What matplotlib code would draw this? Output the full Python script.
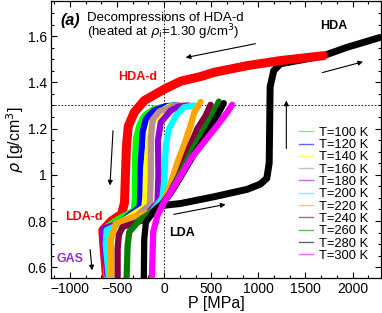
import matplotlib
matplotlib.use("Agg")
import matplotlib.pyplot as plt
from matplotlib import ticker
from matplotlib.lines import Line2D

plt.rcParams['font.family'] = ['Liberation Sans', 'DejaVu Sans']

# compression LDA -> HDA (black) and decompression of HDA-d (red)
P_comp = [-100, 0, 177, 529, 881, 1022, 1090, 1115, 1120, 1125, 1163, 1233, 1500, 1690, 1938, 2290]
rho_comp = [0.855, 0.868, 0.876, 0.905, 0.937, 0.96, 0.985, 1.05, 1.2, 1.38, 1.45, 1.48, 1.50, 1.515, 1.551, 1.594]
P_hdad = [1690, 1233, 881, 529, 388, 177, 0, -211, -317, -380, -400, -410, -420, -450, -560, -650, -640, -610]
rho_hdad = [1.515, 1.494, 1.472, 1.443, 1.425, 1.405, 1.37, 1.321, 1.27, 1.21, 1.12, 1.0, 0.88, 0.83, 0.80, 0.76, 0.70, 0.553]

# decompressions of HDA-d heated at rho=1.30
P_100 = [106, 0, -106, -211, -264, -299, -310, -310, -320, -511, -634, -630, -600]
rho_100 = [1.30, 1.295, 1.285, 1.256, 1.213, 1.155, 1.054, 0.90, 0.846, 0.803, 0.767, 0.70, 0.553]
P_120 = [150, 20, -106, -193, -228, -246, -252, -258, -450, -640, -630, -600]
rho_120 = [1.30, 1.297, 1.278, 1.242, 1.184, 1.054, 0.95, 0.86, 0.80, 0.765, 0.70, 0.553]
P_140 = [194, 50, -17, -123, -158, -190, -199, -210, -400, -640, -625, -605]
rho_140 = [1.30, 1.295, 1.278, 1.227, 1.155, 1.03, 0.90, 0.86, 0.81, 0.76, 0.70, 0.553]
P_160 = [230, 100, -50, -120, -140, -141, -150, -300, -500, -640, -620, -595]
rho_160 = [1.30, 1.297, 1.275, 1.24, 1.16, 1.0, 0.87, 0.82, 0.79, 0.76, 0.70, 0.553]
P_180 = [265, 150, 71, -35, -65, -60, -70, -200, -450, -651, -640, -598]
rho_180 = [1.30, 1.295, 1.278, 1.227, 1.15, 1.0, 0.88, 0.82, 0.79, 0.767, 0.70, 0.553]
P_200 = [317, 211, 124, 53, 18, 3, -17, -150, -400, -610, -620, -585]
rho_200 = [1.30, 1.292, 1.256, 1.199, 1.127, 0.98, 0.90, 0.83, 0.80, 0.76, 0.70, 0.553]
P_220 = [388, 320, 282, 211, 141, 60, 0, -53, -334, -511, -563, -563]
rho_220 = [1.315, 1.27, 1.213, 1.127, 1.054, 0.95, 0.89, 0.846, 0.817, 0.788, 0.724, 0.553]
P_240 = [494, 441, 353, 260, 160, 60, -40, -228, -440, -480, -493, -493]
rho_240 = [1.303, 1.256, 1.199, 1.11, 1.0, 0.92, 0.86, 0.803, 0.774, 0.74, 0.68, 0.553]
P_260 = [581, 511, 400, 290, 180, 70, -20, -106, -264, -370, -387, -398]
rho_260 = [1.317, 1.256, 1.18, 1.10, 1.01, 0.925, 0.87, 0.846, 0.803, 0.752, 0.695, 0.553]
P_280 = [634, 564, 440, 320, 190, 70, -20, -88, -193, -211, -215]
rho_280 = [1.31, 1.256, 1.17, 1.09, 1.0, 0.92, 0.875, 0.853, 0.795, 0.72, 0.553]
P_300 = [723, 670, 564, 423, 282, 177, 71, 0, -70, -116, -130]
rho_300 = [1.303, 1.27, 1.213, 1.141, 1.069, 0.997, 0.925, 0.882, 0.824, 0.752, 0.553]

temps = [100, 120, 140, 160, 180, 200, 220, 240, 260, 280, 300]
colors = ['#00ff00', '#0000ff', '#ffff00', '#bc8f8f', '#9400d3', '#00ffff',
          '#ffa500', '#800040', '#008000', '#000000', '#ff00ff']
P_runs = [P_100, P_120, P_140, P_160, P_180, P_200, P_220, P_240, P_260, P_280, P_300]
rho_runs = [rho_100, rho_120, rho_140, rho_160, rho_180, rho_200, rho_220, rho_240, rho_260, rho_280, rho_300]

fig = plt.figure(figsize=(3.82, 3.13), dpi=100)
ax = fig.add_axes([0.1335, 0.1128, 0.8635, 0.8842])

ax.plot(P_comp, rho_comp, color='k', lw=5, solid_capstyle='round', zorder=2)
ax.plot(P_hdad, rho_hdad, color='#ff0000', lw=6.5, solid_capstyle='round', zorder=2)
for P, rho, c in zip(P_runs, rho_runs, colors):
    ax.plot(P, rho, color=c, lw=4.5, solid_capstyle='round', zorder=3)

ax.axhline(1.30, color='k', lw=0.6, ls=(0, (2, 2)), zorder=1)
ax.axvline(0, color='k', lw=0.6, ls=(0, (2, 2)), zorder=1)

ax.set_xlim(-1200, 2300)
ax.set_ylim(0.555, 1.752)
ax.xaxis.set_major_locator(ticker.MultipleLocator(500))
ax.xaxis.set_minor_locator(ticker.MultipleLocator(500 / 3))
ax.yaxis.set_major_locator(ticker.MultipleLocator(0.2))
ax.yaxis.set_minor_locator(ticker.MultipleLocator(0.05))
ax.yaxis.set_major_formatter(ticker.FuncFormatter(lambda v, p: '1' if abs(v - 1) < 1e-6 else f'{v:g}'))
ax.tick_params(which='both', direction='in', top=True, right=True, labelsize=10, pad=3)
ax.tick_params(which='major', length=4, width=0.8)
ax.tick_params(which='minor', length=2, width=0.8)
for s in ax.spines.values():
    s.set_linewidth(0.9)

ax.set_xlabel('P [MPa]', fontsize=11.5, labelpad=0)
ax.set_ylabel(r'$\rho$ [g/cm$^3$]', fontsize=11.5, labelpad=1)

# annotations
ax.text(-1100, 1.666, '(a)', fontsize=11.5, fontweight='bold', fontstyle='italic', va='center')
ax.text(-815, 1.679, 'Decompressions of HDA-d', fontsize=9.5, va='center')
ax.text(-815, 1.617, r'(heated at $\rho_{\rm i}$=1.30 g/cm$^3$)', fontsize=9.5, va='center')
ax.text(1803, 1.645, 'HDA', fontsize=9, fontweight='bold', ha='center', va='center')
ax.text(-277, 1.425, 'HDA-d', fontsize=9, fontweight='bold', color='#ff0000', ha='center', va='center')
ax.text(-849, 0.817, 'LDA-d', fontsize=9, fontweight='bold', color='#ff0000', ha='center', va='center')
ax.text(-1002, 0.637, 'GAS', fontsize=9, fontweight='bold', color='#9932cc', ha='center', va='center')
ax.text(193, 0.748, 'LDA', fontsize=9, fontweight='bold', ha='center', va='center')

arrows = [((969, 1.567), (229, 1.507)), ((1678, 1.442), (2111, 1.489)),
          ((1297, 1.114), (1297, 1.321)), ((-542, 1.191), (-574, 0.954)),
          ((-785, 0.677), (-764, 0.587)), ((103, 0.829), (652, 0.872))]
for start, end in arrows:
    ax.annotate('', xy=end, xytext=start,
                arrowprops=dict(arrowstyle='-|>', color='k', lw=0.8, mutation_scale=7,
                                shrinkA=0, shrinkB=0))

handles = [Line2D([], [], color=c, lw=1, alpha=0.6) for c in colors]
labels = [f'T={t} K' for t in temps]
ax.legend(handles, labels, loc='upper left', bbox_to_anchor=(0.725, 0.578), frameon=False,
          fontsize=9.3, handlelength=1.1, handletextpad=0.45, labelspacing=0.02,
          borderpad=0.2)

fig.savefig('out.png', dpi=100)
